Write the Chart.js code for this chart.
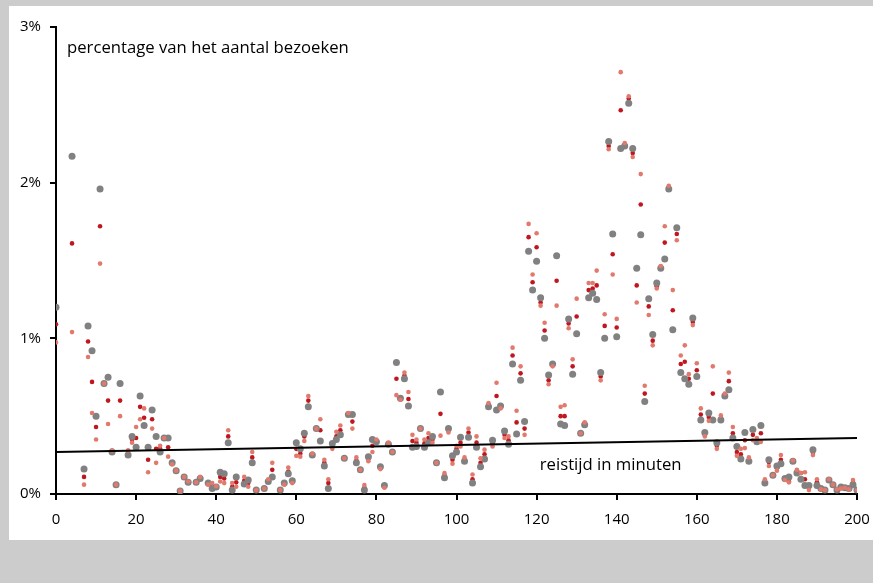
<!DOCTYPE html>
<html>
<head>
<meta charset="utf-8">
<script src="https://cdn.jsdelivr.net/npm/chart.js@4.4.1/dist/chart.umd.min.js"></script>
<style>
  html, body { margin: 0; padding: 0; background: #cccccc; }
  #wrap { position: relative; width: 873px; height: 583px; }
</style>
</head>
<body>
<div id="wrap"><canvas id="c" width="873" height="583"></canvas></div>
<script>
// ---- data ----
const minutes = [0,4,7,8,9,10,11,12,13,14,15,16,18,19,20,21,22,23,24,25,26,27,28,29,30,31,32,33,35,36,38,39,40,41,42,43,44,45,47,48,49,50,52,53,54,56,57,58,59,
  60,61,62,63,64,65,66,67,68,69,70,71,72,73,74,75,76,77,78,79,80,81,82,83,84,85,86,87,88,89,90,91,92,93,94,95,96,97,98,99,
  100,101,102,103,104,105,106,107,108,109,110,111,112,113,114,115,116,117,118,119,120,121,122,123,124,125,126,127,128,129,
  130,131,132,133,134,135,136,137,138,139,140,141,142,143,144,145,146,147,148,149,150,151,152,153,154,155,156,157,158,159,
  160,161,162,163,164,165,166,167,168,169,170,171,172,173,174,175,176,177,178,179,180,181,182,183,184,185,186,187,188,189,
  190,191,192,193,194,195,196,197,198,199,200];

const greySeries = [1.20,2.17,0.16,1.08,0.92,0.50,1.96,0.71,0.75,0.27,0.06,0.71,0.25,0.37,0.30,0.63,0.44,0.30,0.54,0.37,0.27,0.36,0.36,0.20,0.15,0.02,0.11,0.075,0.075,0.10,0.07,0.035,0.045,0.14,0.13,0.33,0.025,0.11,0.065,0.09,0.20,0.025,0.035,0.08,0.11,0.025,0.07,0.13,0.085,
  0.33,0.29,0.39,0.56,0.25,0.42,0.34,0.18,0.035,0.325,0.35,0.38,0.23,0.51,0.51,0.20,0.155,0.025,0.24,0.35,0.335,0.175,0.055,0.32,0.27,0.845,0.615,0.74,0.565,0.30,0.305,0.42,0.30,0.33,0.37,0.20,0.655,0.105,0.42,0.245,
  0.27,0.365,0.21,0.365,0.07,0.30,0.175,0.225,0.56,0.345,0.54,0.565,0.405,0.32,0.835,0.385,0.73,0.465,1.56,1.31,1.495,1.26,1.00,0.765,0.835,1.53,0.45,0.44,1.125,0.77,
  1.03,0.39,0.445,1.26,1.29,1.25,0.78,1.00,2.265,1.67,1.01,2.22,2.235,2.51,2.22,1.45,1.665,0.595,1.255,1.025,1.355,1.45,1.51,1.96,1.055,1.71,0.78,0.74,0.705,1.13,
  0.755,0.475,0.395,0.52,0.475,0.33,0.475,0.63,0.67,0.36,0.305,0.225,0.395,0.21,0.415,0.335,0.44,0.07,0.22,0.12,0.18,0.195,0.10,0.11,0.21,0.135,0.095,0.055,0.055,0.285,
  0.055,0.035,0.025,0.09,0.06,0.025,0.045,0.04,0.035,0.06,0.025];

const redSeries = [1.09,1.61,0.11,0.98,0.72,0.43,1.72,0.71,0.60,0.275,0.06,0.60,0.26,0.35,0.36,0.56,0.49,0.22,0.48,0.29,0.29,0.36,0.30,0.195,0.15,0.02,0.11,0.08,0.075,0.10,0.065,0.05,0.045,0.11,0.10,0.37,0.047,0.075,0.085,0.07,0.235,0.025,0.035,0.085,0.155,0.025,0.07,0.145,0.08,
  0.29,0.26,0.37,0.60,0.255,0.42,0.41,0.20,0.07,0.31,0.37,0.41,0.23,0.515,0.465,0.215,0.155,0.04,0.225,0.31,0.34,0.17,0.05,0.325,0.27,0.74,0.61,0.76,0.61,0.34,0.33,0.42,0.325,0.36,0.35,0.20,0.515,0.12,0.41,0.22,
  0.29,0.33,0.22,0.395,0.095,0.33,0.20,0.255,0.575,0.325,0.63,0.555,0.38,0.345,0.89,0.46,0.775,0.42,1.65,1.36,1.585,1.23,1.05,0.73,0.83,1.37,0.50,0.50,1.095,0.82,
  1.14,0.39,0.455,1.31,1.32,1.34,0.755,1.08,2.235,1.54,1.07,2.465,2.24,2.54,2.19,1.34,1.86,0.645,1.205,0.985,1.335,1.455,1.615,1.97,1.18,1.67,0.835,0.85,0.74,1.105,
  0.795,0.51,0.38,0.495,0.645,0.31,0.49,0.64,0.725,0.39,0.27,0.255,0.345,0.22,0.38,0.345,0.39,0.08,0.205,0.12,0.165,0.22,0.095,0.08,0.21,0.15,0.135,0.095,0.04,0.265,
  0.075,0.035,0.025,0.09,0.06,0.025,0.04,0.04,0.035,0.075,0.025];

const salmonSeries = [0.974,1.04,0.06,0.88,0.52,0.35,1.48,0.71,0.45,0.28,0.06,0.50,0.28,0.33,0.43,0.48,0.55,0.14,0.42,0.20,0.31,0.36,0.24,0.19,0.15,0.02,0.11,0.08,0.075,0.11,0.06,0.07,0.05,0.08,0.07,0.41,0.07,0.047,0.11,0.047,0.27,0.025,0.035,0.095,0.20,0.025,0.06,0.17,0.07,
  0.245,0.24,0.34,0.63,0.26,0.42,0.48,0.22,0.095,0.29,0.40,0.44,0.23,0.52,0.42,0.235,0.155,0.058,0.21,0.27,0.35,0.16,0.04,0.33,0.27,0.635,0.605,0.78,0.655,0.38,0.35,0.42,0.35,0.39,0.33,0.20,0.375,0.135,0.395,0.195,
  0.31,0.305,0.235,0.42,0.125,0.37,0.23,0.285,0.585,0.305,0.715,0.55,0.36,0.37,0.94,0.535,0.82,0.38,1.735,1.41,1.675,1.21,1.10,0.705,0.82,1.21,0.56,0.57,1.065,0.865,
  1.255,0.39,0.46,1.355,1.355,1.435,0.73,1.155,2.215,1.41,1.125,2.71,2.255,2.555,2.165,1.23,2.055,0.695,1.15,0.955,1.32,1.465,1.72,1.98,1.31,1.63,0.89,0.955,0.77,1.085,
  0.84,0.55,0.37,0.47,0.82,0.29,0.505,0.645,0.78,0.43,0.245,0.29,0.295,0.235,0.345,0.36,0.335,0.095,0.18,0.12,0.15,0.25,0.09,0.075,0.215,0.155,0.135,0.14,0.025,0.25,
  0.095,0.03,0.025,0.095,0.06,0.03,0.035,0.04,0.03,0.09,0.025];

const trendX = [0, 200];
const trendY = [0.27, 0.36];

const xTicks = [0,20,40,60,80,100,120,140,160,180,200];
const yTicks = [0,1,2,3];
const yLabelText = 'percentage van het aantal bezoeken';
const xLabelText = 'reistijd in minuten';

// ---- build ----
const pts = (vals) => minutes.map((m, i) => ({ x: m, y: vals[i] }));
const FONT = '"Open Sans", "Noto Sans", sans-serif';

const framePlugin = {
  id: 'frame',
  beforeDraw(chart) {
    const ctx = chart.ctx;
    ctx.save();
    ctx.fillStyle = '#cccccc';
    ctx.fillRect(0, 0, chart.width, chart.height);
    ctx.fillStyle = '#ffffff';
    ctx.fillRect(9, 6, chart.width - 9, 534);
    ctx.restore();
  },
  afterDraw(chart) {
    const ctx = chart.ctx;
    const xs = chart.scales.x, ys = chart.scales.y;
    ctx.save();
    ctx.fillStyle = '#000000';
    ctx.font = '16.7px ' + FONT;
    ctx.textBaseline = 'alphabetic';
    ctx.textAlign = 'left';
    ctx.fillText(yLabelText, xs.left + 11, ys.top + 26);
    ctx.fillText(xLabelText, xs.getPixelForValue(120.8), ys.getPixelForValue(0) - 24);
    ctx.restore();
  }
};

new Chart(document.getElementById('c'), {
  type: 'scatter',
  data: {
    datasets: [
      {
        type: 'line', data: trendX.map((x, i) => ({ x, y: trendY[i] })),
        borderColor: '#000000', borderWidth: 2, pointRadius: 0, fill: false, order: 0
      },
      { data: pts(salmonSeries), backgroundColor: '#e2796d', pointRadius: 2.3, borderWidth: 0, order: 1 },
      { data: pts(greySeries), backgroundColor: '#818181', pointRadius: 3.5, borderWidth: 0, order: 2 },
      { data: pts(redSeries), backgroundColor: '#c0161e', pointRadius: 2.3, borderWidth: 0, order: 3 }
    ]
  },
  options: {
    responsive: false,
    animation: false,
    events: [],
    layout: { autoPadding: false, padding: { top: 27, right: 16, left: 0, bottom: 0 } },
    plugins: { legend: { display: false }, tooltip: { enabled: false } },
    scales: {
      x: {
        type: 'linear', min: 0, max: 200,
        afterBuildTicks: (s) => { s.ticks = xTicks.map(v => ({ value: v })); },
        afterFit: (s) => { s.height = 89; s.paddingLeft = 0; s.paddingRight = 0; },
        ticks: { color: '#000', font: { family: FONT, size: 15 }, padding: 11, maxRotation: 0 },
        grid: { drawOnChartArea: false, drawTicks: true, tickLength: 6, color: '#000', lineWidth: 2 },
        border: { color: '#000', width: 2 }
      },
      y: {
        type: 'linear', min: 0, max: 3,
        afterBuildTicks: (s) => { s.ticks = yTicks.map(v => ({ value: v })); },
        afterFit: (s) => { s.width = 56; s.paddingTop = 0; s.paddingBottom = 0; },
        ticks: { color: '#000', font: { family: FONT, size: 15 }, padding: 9, callback: (v) => v + '%' },
        grid: { drawOnChartArea: false, drawTicks: true, tickLength: 6, color: '#000', lineWidth: 2 },
        border: { color: '#000', width: 2 }
      }
    }
  },
  plugins: [framePlugin]
});
</script>
</body>
</html>
